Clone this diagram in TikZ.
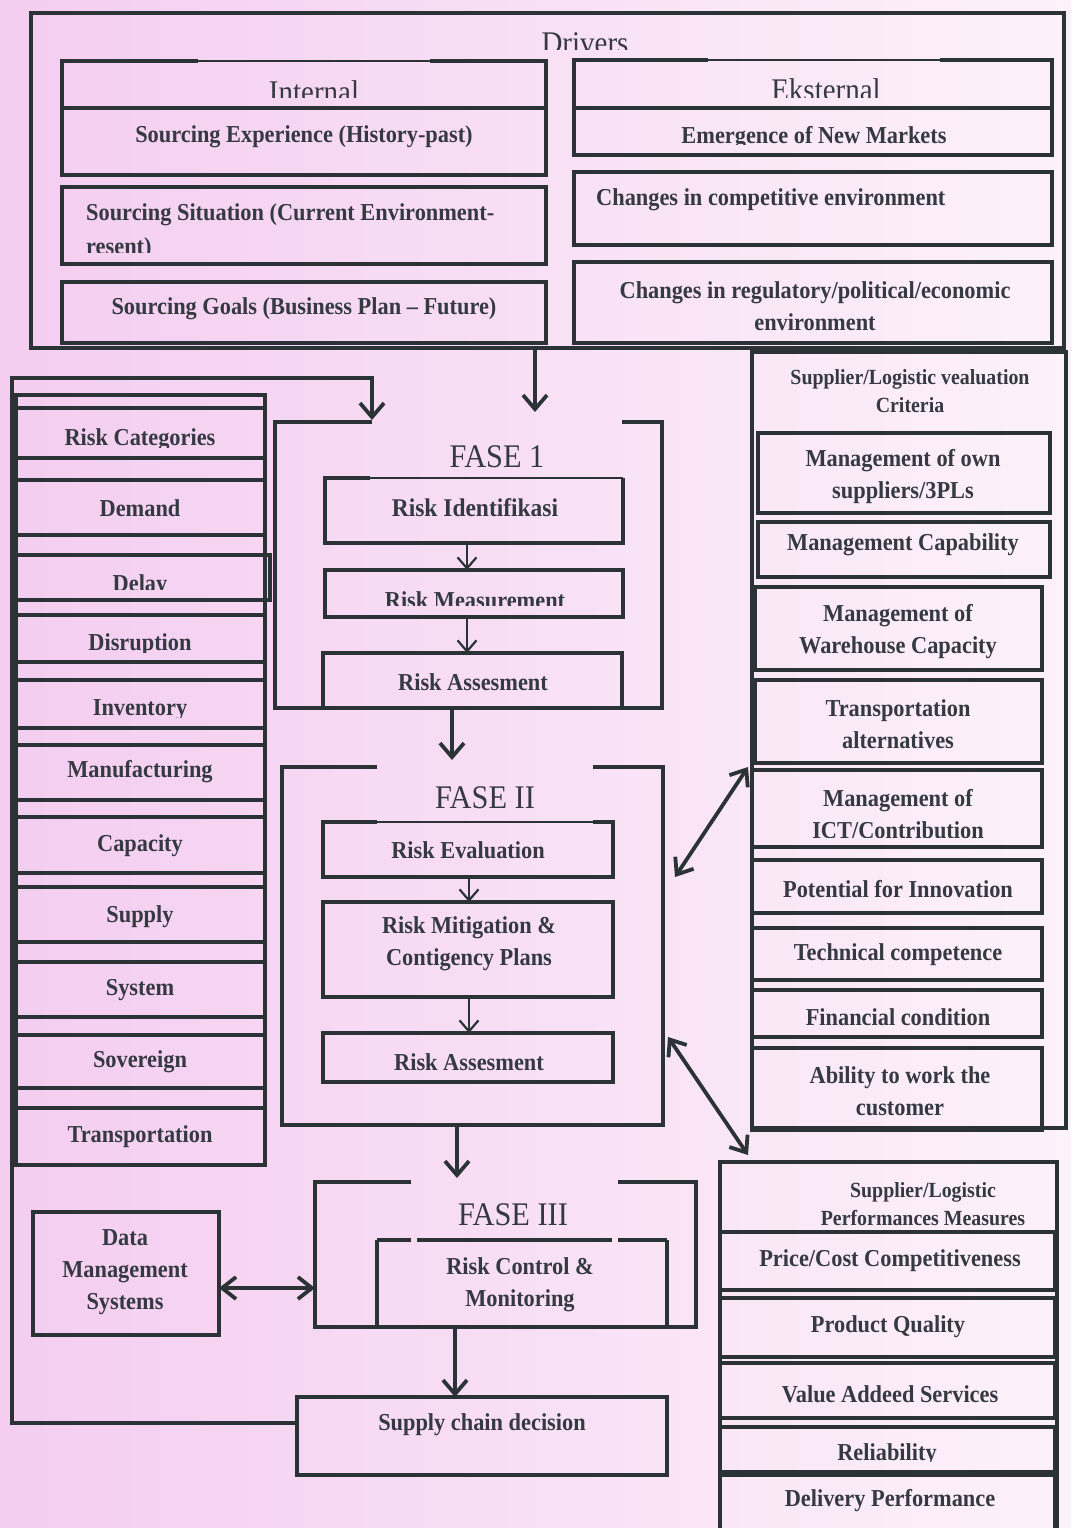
\documentclass[tikz,border=0pt]{standalone}
\usepackage{fontspec}
\setmainfont[FakeStretch=0.92]{Liberation Serif}
\usetikzlibrary{arrows.meta}

\definecolor{ink}{HTML}{2B3336}
\definecolor{txt}{HTML}{353942}
\definecolor{bgL}{HTML}{F4CDF0}
\definecolor{bgR}{HTML}{FCF2FA}

\tikzset{
  edge/.style={draw=ink, line width=4pt},
  frameline/.style={draw=ink, line width=3.2pt},
  thinedge/.style={draw=ink, line width=1.2pt},
  box/.style={edge, inner sep=0pt, outer sep=0pt},
  lbl/.style={text=txt, font=\bfseries\fontsize{24.3}{32}\selectfont, align=center, inner sep=0pt},
  ttl/.style={text=txt, font=\bfseries\fontsize{21.6}{28}\selectfont, align=center, inner sep=0pt},
  head/.style={text=txt, font=\fontsize{31.5}{36}\selectfont, inner sep=0pt},
  fase/.style={text=txt, font=\fontsize{33}{36}\selectfont, inner sep=0pt},
  flow/.style={draw=ink, line width=3.8pt, -{Straight Barb[length=14pt,width=24pt]}},
  sub/.style={draw=ink, line width=2.2pt, -{Straight Barb[length=11pt,width=19pt]}},
  both/.style={draw=ink, line width=3.8pt, {Straight Barb[length=14pt,width=22pt]}-{Straight Barb[length=14pt,width=22pt]}}
}

% rectangle node from its top-left and bottom-right corners
\newcommand\bx[6][]{\node[box,#1,anchor=north west,minimum width={(#5)-(#3)},minimum height={(#6)-(#4)}] (#2) at (#3,#4) {};}
% text whose lower part is cut off at a given height
\newcommand\ctext[6]{\begin{scope}\clip ({#2-320},{#3-60}) rectangle ({#2+320},#4);\node[anchor=base,#5] (#1) at (#2,#3) {#6};\end{scope}}

\begin{document}
\begin{tikzpicture}[x=1pt,y=-1pt]
\useasboundingbox (0,0) rectangle (1071,1528);
\fill[left color=bgL, right color=bgR] (0,0) rectangle (1071,1528);

% ---------------- Drivers ----------------
\bx[line width=4.5pt]{drivers}{31}{13}{1064}{348}
\ctext{t-drivers}{585}{53}{50}{head}{Drivers}

% internal drivers
\bx[draw=none]{inth}{62}{61}{546}{108}
\draw[edge] (198,61) -- (inth.north west) -- (inth.south west) -- (inth.south east) -- (inth.north east) -- (430,61);
\draw[thinedge] (198,61) -- (430,61);
\ctext{t-int}{314}{102}{97}{head}{Internal}
\bx{int1}{62}{108}{546}{175}
\node[lbl] (t-int1) at (304,137) {Sourcing Experience (History-past)};
\bx{int2}{62}{187}{546}{264}
\node[lbl, anchor=west] (t-int2) at (86,215) {Sourcing Situation (Current Environment-};
\ctext{t-int2b}{86}{254}{252}{lbl, anchor=base west}{resent)}
\bx{int3}{62}{282}{546}{343}
\node[lbl] (t-int3) at (304,309) {Sourcing Goals (Business Plan – Future)};

% external drivers
\bx[draw=none]{exth}{574}{60}{1052}{108}
\draw[edge] (708,60) -- (exth.north west) -- (exth.south west) -- (exth.south east) -- (exth.north east) -- (940,60);
\draw[thinedge] (708,60) -- (940,60);
\ctext{t-ext}{826}{100}{97}{head}{Eksternal}
\bx{ext1}{574}{108}{1052}{155}
\ctext{t-ext1}{814}{143}{144}{lbl}{Emergence of New Markets}
\bx{ext2}{574}{172}{1052}{245}
\node[lbl, anchor=west] (t-ext2) at (596,200) {Changes in competitive environment};
\bx{ext3}{574}{262}{1052}{343}
\node[lbl] (t-ext3) at (815,306) {Changes in regulatory/political/economic\\environment};

% ---------------- Risk categories ----------------
\bx{stack}{16}{395}{265}{1165}
\bx{rc0}{16}{408}{265}{458}
\ctext{t-rc0}{140}{445}{447}{lbl}{Risk Categories}
\bx{rc1}{16}{480}{265}{535}
\node[lbl] (t-rc1) at (140,508) {Demand};
\bx{rc2}{16}{555}{270}{600}
\ctext{t-rc2}{140}{591}{589}{lbl}{Delay}
\bx{rc3}{16}{615}{265}{662}
\ctext{t-rc3}{140}{650}{652}{lbl}{Disruption}
\bx{rc4}{16}{680}{265}{728}
\ctext{t-rc4}{140}{715}{717}{lbl}{Inventory}
\bx{rc5}{16}{745}{265}{800}
\node[lbl] (t-rc5) at (140,772) {Manufacturing};
\bx{rc6}{16}{817}{265}{873}
\node[lbl] (t-rc6) at (140,846) {Capacity};
\bx{rc7}{16}{887}{265}{942}
\node[lbl] (t-rc7) at (140,917) {Supply};
\bx{rc8}{16}{962}{265}{1017}
\node[lbl] (t-rc8) at (140,990) {System};
\bx{rc9}{16}{1035}{265}{1088}
\node[lbl] (t-rc9) at (140,1062) {Sovereign};
\bx{rc10}{16}{1108}{265}{1165}
\node[lbl] (t-rc10) at (140,1137) {Transportation};

% ---------------- FASE 1 ----------------
\bx[draw=none]{f1}{275}{422}{662}{708}
\draw[frameline] (372,422) -- (f1.north west) -- (f1.south west) -- (f1.south east) -- (f1.north east) -- (622,422);
\node[fase] (t-f1) at (497,457) {FASE 1};
\bx[draw=none]{ri}{325}{478}{623}{543}
\draw[edge] (370,478) -- (ri.north west) -- (ri.south west) -- (ri.south east) -- (ri.north east);
\draw[thinedge] (370,478) -- (ri.north east);
\node[lbl, font=\bfseries\fontsize{25.5}{32}\selectfont] (t-ri) at (475,508) {Risk Identifikasi};
\bx{rm}{325}{570}{623}{617}
\ctext{t-rm}{475}{608}{605}{lbl}{Risk Measurement}
\bx{ra1}{323}{653}{622}{708}
\node[lbl] (t-ra1) at (473,682) {Risk Assesment};
\coordinate (s1) at (467,0);
\draw[sub] (ri.south -| s1) -- (rm.north -| s1);
\draw[sub] (rm.south -| s1) -- (ra1.north -| s1);

% ---------------- FASE II ----------------
\bx[draw=none]{f2}{282}{767}{663}{1125}
\draw[frameline] (377,767) -- (f2.north west) -- (f2.south west) -- (f2.south east) -- (f2.north east) -- (593,767);
\node[fase] (t-f2) at (485,798) {FASE II};
\bx[draw=none]{rev}{323}{822}{613}{877}
\draw[edge] (377,822) -- (rev.north west) -- (rev.south west) -- (rev.south east) -- (rev.north east) -- (593,822);
\draw[thinedge] (377,822) -- (593,822);
\node[lbl] (t-rev) at (468,850) {Risk Evaluation};
\bx{rmit}{323}{902}{613}{997}
\node[lbl] (t-rmit) at (469,944) {Risk Mitigation \&\\Contigency Plans};
\bx{ra2}{323}{1033}{613}{1082}
\node[lbl] (t-ra2) at (469,1062) {Risk Assesment};
\coordinate (s2) at (469,0);
\draw[sub] (rev.south -| s2) -- (rmit.north -| s2);
\draw[sub] (rmit.south -| s2) -- (ra2.north -| s2);

% ---------------- FASE III ----------------
\bx[draw=none]{f3}{315}{1182}{696}{1327}
\draw[frameline] (411,1182) -- (f3.north west) -- (f3.south west) -- (f3.south east) -- (f3.north east) -- (618,1182);
\node[fase] (t-f3) at (513,1215) {FASE III};
\bx[draw=none]{rcm}{377}{1240}{667}{1327}
\draw[edge] (rcm.north west) -- (rcm.south west) -- (rcm.south east) -- (rcm.north east);
\draw[edge] (rcm.north west) -- (411,1240);
\draw[edge] (417,1240) -- (612,1240);
\draw[edge] (618,1240) -- (rcm.north east);
\node[lbl] (t-rcm) at (520,1285) {Risk Control \&\\Monitoring};

\bx{dms}{33}{1212}{219}{1335}
\node[lbl] (t-dms) at (125,1272) {Data\\Management\\Systems};

\bx{scd}{297}{1397}{667}{1475}
\node[lbl] (t-scd) at (482,1425) {Supply chain decision};

% ---------------- evaluation criteria ----------------
\bx{eval}{752}{352}{1066}{1128}
\node[ttl] (t-eval) at (910,391) {Supplier/Logistic vealuation\\Criteria};
\bx{ev1}{758}{433}{1050}{513}
\node[lbl] (t-ev1) at (903,477) {Management of own\\suppliers/3PLs};
\bx{ev2}{758}{522}{1050}{577}
\node[lbl] (t-ev2) at (903,545) {Management Capability};
\bx{ev3}{755}{587}{1042}{670}
\node[lbl] (t-ev3) at (898,632) {Management of\\Warehouse Capacity};
\bx{ev4}{755}{680}{1042}{763}
\node[lbl] (t-ev4) at (898,724) {Transportation\\alternatives};
\bx{ev5}{752}{770}{1042}{847}
\begin{scope}
  \clip (760,775) rectangle (1035,837);
  \node[lbl] (t-ev5) at (898,814) {Management of\\ICT/Contribution};
\end{scope}
\bx{ev6}{752}{860}{1042}{913}
\node[lbl] (t-ev6) at (898,889) {Potential for Innovation};
\bx{ev7}{752}{928}{1042}{980}
\node[lbl] (t-ev7) at (898,955) {Technical competence};
\bx{ev8}{752}{990}{1042}{1037}
\node[lbl] (t-ev8) at (898,1017) {Financial condition};
\bx{ev9}{752}{1048}{1042}{1130}
\node[lbl] (t-ev9) at (900,1091) {Ability to work the\\customer};

% ---------------- performance measures ----------------
\bx{perf}{720}{1162}{1057}{1545}
\node[ttl] (t-perf) at (923,1204) {Supplier/Logistic\\Performances Measures};
\bx{pm1}{720}{1232}{1055}{1290}
\node[lbl] (t-pm1) at (890,1261) {Price/Cost Competitiveness};
\bx{pm2}{720}{1298}{1055}{1357}
\node[lbl] (t-pm2) at (888,1327) {Product Quality};
\bx{pm3}{720}{1363}{1055}{1418}
\node[lbl] (t-pm3) at (890,1394) {Value Addeed Services};
\bx{pm4}{720}{1427}{1055}{1472}
\ctext{t-pm4}{887}{1460}{1461}{lbl}{Reliability}
\bx{pm5}{720}{1475}{1055}{1545}
\node[lbl] (t-pm5) at (890,1501) {Delivery Performance};

% ---------------- connectors ----------------
\coordinate (ax) at (535,0);
\draw[flow] (drivers.south -| ax) -- ([yshift=10pt]f1.north -| ax);
\coordinate (bx) at (452,0);
\draw[flow] (f1.south -| bx) -- ([yshift=7pt]f2.north -| bx);
\coordinate (cx) at (457,0);
\draw[flow] (f2.south -| cx) -- ([yshift=4pt]f3.north -| cx);
\coordinate (dx) at (455,0);
\draw[flow] (f3.south -| dx) -- (scd.north -| dx);

% feedback from the decision back into FASE 1
\coordinate (loopy) at (0,1423);
\coordinate (f1in) at (372,420);
\draw[flow] (scd.west |- loopy) -- (12,1423) -- (12,378) -- (372,378) -- (f1in);

% data management link
\coordinate (dy) at (0,1288);
\draw[both] (dms.east |- dy) -- (f3.west |- dy);

% links between FASE II and the supplier boxes
\coordinate (p1) at (675,877);
\coordinate (q1) at (748,767);
\draw[both] (p1) -- (q1);
\coordinate (p2) at (668,1037);
\coordinate (q2) at (748,1155);
\draw[both] (p2) -- (q2);
\end{tikzpicture}
\end{document}
